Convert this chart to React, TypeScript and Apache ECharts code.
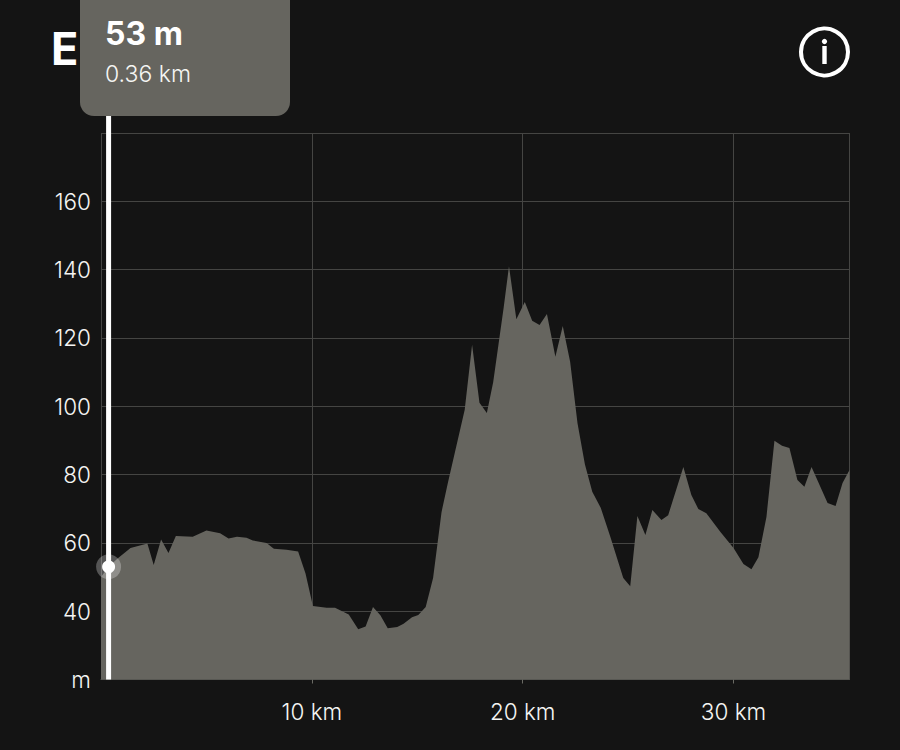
import React, { useEffect, useRef } from "react";
import * as echarts from "echarts";

const distanceKm = [0, 0.36, 0.8, 1.4, 2.2, 2.5, 2.85, 3.2, 3.55, 4.35, 5.0, 5.65, 6.05, 6.45, 6.9, 7.2, 7.85, 8.2, 8.8, 9.35, 9.7, 10.05, 10.7, 11.1, 11.75, 12.2, 12.55, 12.9, 13.25, 13.6, 14.05, 14.35, 14.75, 15.05, 15.4, 15.75, 16.15, 16.45, 17.25, 17.6, 17.95, 18.3, 18.6, 18.85, 19.1, 19.35, 19.7, 20.1, 20.45, 20.8, 21.15, 21.55, 21.9, 22.25, 22.6, 22.95, 23.3, 23.7, 24.16, 24.77, 25.1, 25.44, 25.82, 26.15, 26.58, 26.9, 27.62, 28.0, 28.33, 28.71, 29.38, 30.0, 30.47, 30.85, 31.18, 31.56, 31.94, 32.3, 32.65, 33.03, 33.36, 33.7, 34.46, 34.84, 35.17, 35.5];
const elevationM = [50, 53, 55.5, 58.5, 59.8, 53.5, 61, 57, 62, 61.8, 63.6, 62.8, 61.3, 61.8, 61.5, 60.7, 60, 58.3, 58, 57.5, 51, 41.5, 41, 41, 39, 34.7, 35.5, 41.2, 38.8, 35, 35.4, 36.3, 38.2, 38.9, 41.2, 49.7, 69, 77.5, 99, 118, 101, 98, 107, 118, 129, 141, 125.5, 130.5, 125, 123.8, 127, 114.5, 123.5, 113, 95, 83, 75, 70.3, 61.7, 49.7, 47.3, 67.9, 62.3, 69.6, 66.7, 68.1, 82.2, 74, 69.9, 68.7, 63.2, 58.5, 53.8, 52.3, 55.8, 67.6, 89.9, 88.4, 87.8, 78.4, 76.4, 82.2, 71.7, 70.8, 77.5, 81.3];
const cursorKm = 0.36;
const cursorM = 53;
const cursorLineM = [20, 185];
const yTickLabels: Record<number, string> = { 20: "m", 40: "40", 60: "60", 80: "80", 100: "100", 120: "120", 140: "140", 160: "160" };
const xTickLabels: Record<number, string> = { 10: "10 km", 20: "20 km", 30: "30 km" };
const titleText = "E";
const tooltipValue = "53 m";
const tooltipDistance = "0.36 km";

const FONT = "Inter";

export default function App() {
  const ref = useRef<HTMLDivElement>(null);
  useEffect(() => {
    const chart = echarts.init(ref.current!, undefined, { renderer: "svg" });
    chart.setOption({
      animation: false,
      backgroundColor: "#141414",
      textStyle: { fontFamily: FONT },
      grid: { left: 101, right: 50.5, top: 133, bottom: 70.5 },
      xAxis: {
        type: "value",
        min: 0,
        max: 35.5,
        interval: 10,
        axisLine: { show: true, lineStyle: { color: "#55554f", width: 1 } },
        axisTick: { show: true, length: 4, lineStyle: { color: "#6a6a64", width: 1 } },
        axisLabel: {
          color: "#f5f5f3",
          fontSize: 22.5,
          fontWeight: 300,
          fontFamily: FONT,
          margin: 20,
          showMaxLabel: false,
          showMinLabel: false,
          formatter: (v: number) => xTickLabels[v] ?? "",
        },
        splitLine: { show: true, lineStyle: { color: "#454543", width: 1 } },
      },
      yAxis: {
        type: "value",
        min: 20,
        max: 180,
        interval: 20,
        axisLine: { show: false },
        axisTick: { show: false },
        axisLabel: {
          color: "#f5f5f3",
          fontSize: 22.5,
          fontWeight: 300,
          fontFamily: FONT,
          margin: 10,
          showMaxLabel: false,
          formatter: (v: number) => yTickLabels[v] ?? "",
        },
        splitLine: { show: true, lineStyle: { color: "#454543", width: 1 } },
      },
      series: [
        {
          type: "line",
          data: distanceKm.map((d, i) => [d, elevationM[i]]),
          showSymbol: false,
          symbol: "none",
          lineStyle: { width: 0 },
          areaStyle: { color: "#66655f", opacity: 1 },
          z: 3,
        },
        {
          type: "line",
          data: cursorLineM.map((m) => [cursorKm, m]),
          showSymbol: false,
          symbol: "none",
          clip: false,
          lineStyle: { color: "#ffffff", width: 5 },
          z: 4,
        },
        {
          type: "scatter",
          data: [[cursorKm, cursorM]],
          symbolSize: 25,
          itemStyle: { color: "#ffffff", opacity: 0.28 },
          clip: false,
          z: 5,
        },
        {
          type: "scatter",
          data: [[cursorKm, cursorM]],
          symbolSize: 13,
          itemStyle: { color: "#ffffff", opacity: 1 },
          clip: false,
          z: 6,
        },
      ],
      graphic: [
        {
          type: "text",
          x: 51,
          y: 26,
          z: 10,
          style: { text: titleText, fill: "#ffffff", font: `700 45px ${FONT}` },
        },
        {
          type: "rect",
          z: 11,
          shape: { x: 80, y: -20, width: 210, height: 136, r: 14 },
          style: { fill: "#66655f" },
        },
        {
          type: "text",
          x: 105,
          y: 17,
          z: 12,
          style: { text: tooltipValue, fill: "#ffffff", font: `700 32px ${FONT}` },
        },
        {
          type: "text",
          x: 105,
          y: 62,
          z: 12,
          style: { text: tooltipDistance, fill: "#f5f5f3", font: `300 23px ${FONT}` },
        },
        {
          type: "circle",
          z: 12,
          shape: { cx: 824.5, cy: 52, r: 23.5 },
          style: { fill: "none", stroke: "#ffffff", lineWidth: 4 },
        },
        {
          type: "circle",
          z: 12,
          shape: { cx: 824.5, cy: 41.5, r: 2.6 },
          style: { fill: "#ffffff" },
        },
        {
          type: "rect",
          z: 12,
          shape: { x: 822.3, y: 46, width: 4.4, height: 18 },
          style: { fill: "#ffffff" },
        },
      ],
    });
    return () => chart.dispose();
  }, []);
  return <div ref={ref} style={{ position: "fixed", left: 0, top: 0, width: 900, height: 750 }} />;
}
